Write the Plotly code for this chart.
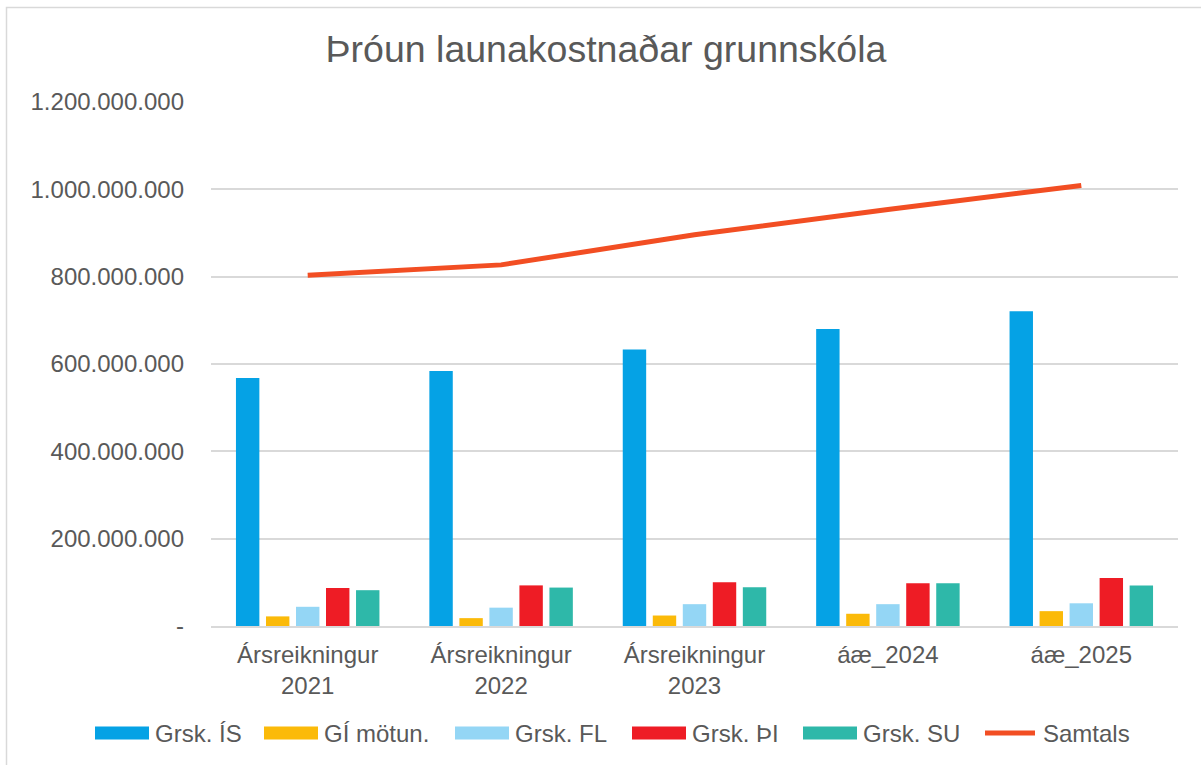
import plotly.graph_objects as go

# ---- data ----
categories = ["Ársreikningur<br>2021", "Ársreikningur<br>2022", "Ársreikningur<br>2023", "áæ_2024", "áæ_2025"]
series_names = ["Grsk. ÍS", "GÍ mötun.", "Grsk. FL", "Grsk. ÞI", "Grsk. SU"]
line_name = "Samtals"
grsk_is = [568_000_000, 584_000_000, 633_000_000, 680_000_000, 721_000_000]
gi_motun = [22_000_000, 18_000_000, 24_000_000, 28_000_000, 34_000_000]
grsk_fl = [44_000_000, 42_000_000, 50_000_000, 50_000_000, 52_000_000]
grsk_thi = [87_000_000, 93_000_000, 100_000_000, 98_000_000, 110_000_000]
grsk_su = [82_000_000, 88_000_000, 89_000_000, 98_000_000, 93_000_000]
samtals = [803_000_000, 827_000_000, 896_000_000, 954_000_000, 1_009_000_000]
tick_vals = [0, 200_000_000, 400_000_000, 600_000_000, 800_000_000, 1_000_000_000, 1_200_000_000]
tick_text = ["-", "200.000.000", "400.000.000", "600.000.000", "800.000.000", "1.000.000.000", "1.200.000.000"]

# ---- styles ----
bar_colors = ["#05A2E5", "#FBBA09", "#94D6F5", "#EE1C25", "#2EB8A9"]
line_color = "#F24E23"
text_color = "#595959"
grid_color = "#D9D9D9"
FONT = "Liberation Sans, Arial, sans-serif"

fig = go.Figure()
for name, vals, col in zip(series_names, [grsk_is, gi_motun, grsk_fl, grsk_thi, grsk_su], bar_colors):
    fig.add_trace(go.Bar(x=categories, y=vals, name=name, marker=dict(color=col, line=dict(width=0))))
fig.add_trace(go.Scatter(x=categories, y=samtals, name=line_name, mode="lines",
                         line=dict(color=line_color, width=5)))

W, H = 1201, 765
L, R, T, B = 211, 23, 102, 139
pw, ph = W - L - R, H - T - B


def px_x(x):
    return (x - L) / pw


def px_y(y):
    return (H - B - y) / ph


# ---- custom legend (layout only: swatch left edges in px) ----
legend_x = [95, 264, 455, 632, 803, 983]
legend_y = 733
sw_w, sw_h = 54, 13
shapes = [dict(type="rect", xref="paper", yref="paper",
               x0=px_x(6.5), x1=px_x(1210), y0=px_y(780), y1=px_y(7.5),
               line=dict(color=grid_color, width=1.5), fillcolor="rgba(0,0,0,0)", layer="below")]
annotations = []
for i, (name, col) in enumerate(zip(series_names + [line_name], bar_colors + [line_color])):
    x0 = legend_x[i]
    if i < len(series_names):
        shapes.append(dict(type="rect", xref="paper", yref="paper",
                           x0=px_x(x0), x1=px_x(x0 + sw_w),
                           y0=px_y(legend_y + sw_h / 2), y1=px_y(legend_y - sw_h / 2),
                           line=dict(width=0), fillcolor=col))
    else:
        shapes.append(dict(type="line", xref="paper", yref="paper",
                           x0=px_x(x0 + 2), x1=px_x(x0 + sw_w - 2),
                           y0=px_y(legend_y), y1=px_y(legend_y),
                           line=dict(color=col, width=5)))
    annotations.append(dict(text=name, xref="paper", yref="paper", x=px_x(x0 + sw_w + 4),
                            y=px_y(legend_y), xanchor="left", yanchor="middle", showarrow=False,
                            font=dict(size=24, color=text_color, family=FONT)))

fig.update_layout(
    width=W, height=H,
    margin=dict(l=L, r=R, t=T, b=B, autoexpand=False),
    paper_bgcolor="white", plot_bgcolor="white",
    font=dict(family=FONT, size=24, color=text_color),
    title=dict(text="Þróun launakostnaðar grunnskóla", x=606 / W, xanchor="center",
               y=1 - 49 / H, yanchor="middle", font=dict(size=37.5, color=text_color)),
    barmode="group", bargap=0.224, bargroupgap=0.22,
    showlegend=False,
    xaxis=dict(showgrid=False, showline=True, linecolor=grid_color, linewidth=1.5,
               ticks="", ticklabelstandoff=6, tickfont=dict(size=24, color=text_color)),
    yaxis=dict(range=[0, 1_200_000_000], tickvals=tick_vals, ticktext=tick_text,
               showgrid=True, gridcolor=grid_color, gridwidth=1.5, zeroline=False,
               showline=False, ticks="", ticklabelstandoff=26,
               tickfont=dict(size=24, color=text_color)),
    shapes=shapes,
    annotations=annotations,
)

fig.write_html("out.html", config={"displayModeBar": False},
               post_script="document.body.style.margin='0';document.body.style.padding='0';"
                           "document.body.style.overflow='hidden';")
